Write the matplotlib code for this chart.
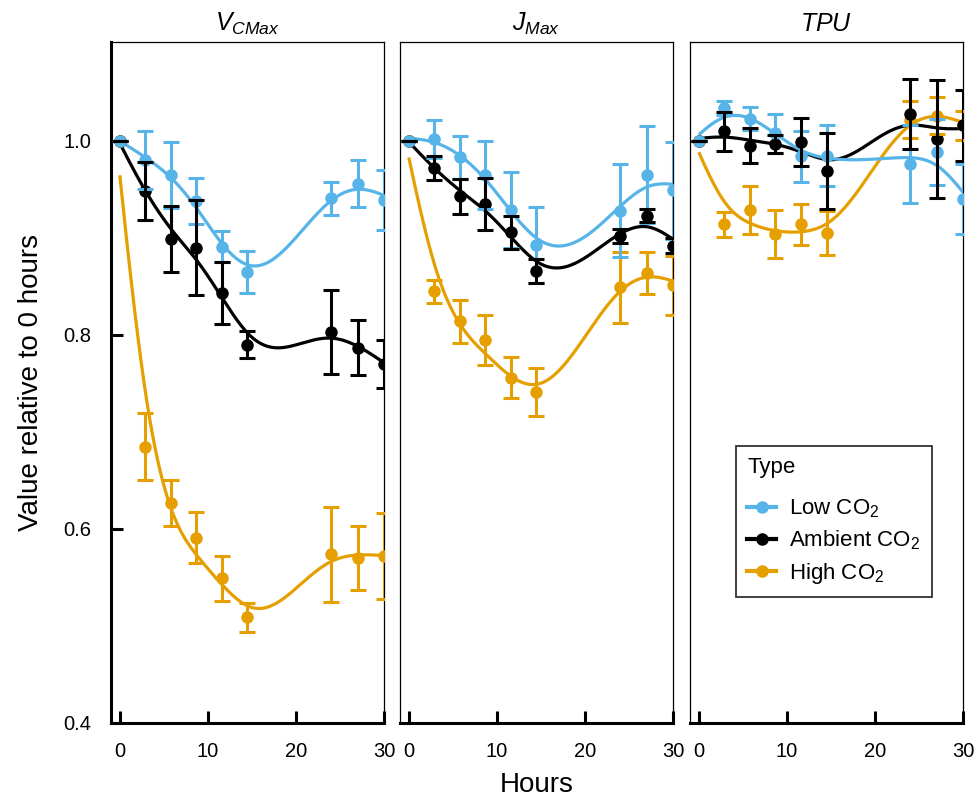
import numpy as np
import matplotlib
matplotlib.use("Agg")
import matplotlib.pyplot as plt
from matplotlib.lines import Line2D

plt.rcParams['font.family'] = ['Liberation Sans', 'DejaVu Sans']
plt.rcParams['mathtext.fontset'] = 'custom'
plt.rcParams['mathtext.rm'] = 'Liberation Sans'
plt.rcParams['mathtext.it'] = 'Liberation Sans:italic'

# ---------------- data ----------------
hours = [0, 2.9, 5.8, 8.7, 11.6, 14.5, 24, 27, 30]
panels = ["$V_{CMax}$", "$J_{Max}$", "$TPU$"]
types = ["Low CO$_2$", "Ambient CO$_2$", "High CO$_2$"]
colors = ["#56B4E9", "#000000", "#E69F00"]

# Vcmax
vc_low = [1.0, 0.980, 0.965, 0.938, 0.891, 0.865, 0.941, 0.956, 0.939]
vc_low_se = [0.0, 0.030, 0.034, 0.024, 0.016, 0.022, 0.017, 0.024, 0.031]
vc_amb = [1.0, 0.948, 0.899, 0.890, 0.843, 0.790, 0.803, 0.787, 0.770]
vc_amb_se = [0.0, 0.030, 0.034, 0.049, 0.032, 0.014, 0.043, 0.028, 0.025]
vc_high = [1.0, 0.685, 0.627, 0.591, 0.549, 0.509, 0.574, 0.570, 0.572]
vc_high_se = [0.0, 0.035, 0.024, 0.026, 0.023, 0.015, 0.049, 0.033, 0.044]

# Jmax
jm_low = [1.0, 1.002, 0.983, 0.965, 0.929, 0.893, 0.928, 0.965, 0.949]
jm_low_se = [0.0, 0.020, 0.022, 0.035, 0.039, 0.039, 0.048, 0.050, 0.050]
jm_amb = [1.0, 0.972, 0.943, 0.935, 0.906, 0.866, 0.902, 0.923, 0.892]
jm_amb_se = [0.0, 0.012, 0.018, 0.027, 0.017, 0.012, 0.007, 0.007, 0.008]
jm_high = [1.0, 0.845, 0.814, 0.795, 0.756, 0.741, 0.849, 0.864, 0.851]
jm_high_se = [0.0, 0.012, 0.022, 0.026, 0.021, 0.025, 0.037, 0.022, 0.030]

# TPU
tp_low = [1.0, 1.034, 1.023, 1.008, 0.984, 0.985, 0.976, 0.989, 0.940]
tp_low_se = [0.0, 0.007, 0.012, 0.020, 0.026, 0.031, 0.040, 0.034, 0.036]
tp_amb = [1.0, 1.010, 0.995, 0.997, 0.999, 0.969, 1.028, 1.002, 1.016]
tp_amb_se = [0.0, 0.020, 0.018, 0.009, 0.025, 0.039, 0.036, 0.061, 0.037]
tp_high = [1.0, 0.914, 0.929, 0.904, 0.914, 0.905, 1.022, 1.026, 1.016]
tp_high_se = [0.0, 0.013, 0.025, 0.025, 0.021, 0.023, 0.019, 0.019, 0.015]

series = [
    [(vc_low, vc_low_se), (vc_amb, vc_amb_se), (vc_high, vc_high_se)],
    [(jm_low, jm_low_se), (jm_amb, jm_amb_se), (jm_high, jm_high_se)],
    [(tp_low, tp_low_se), (tp_amb, tp_amb_se), (tp_high, tp_high_se)],
]


# ---------------- smoother (P-spline) ----------------
def bspline_basis(x, xl, xr, nseg, deg=3):
    x = np.asarray(x, float)
    dx = (xr - xl) / nseg
    knots = xl + dx * np.arange(-deg, nseg + deg + 1)
    B = np.zeros((len(x), len(knots) - 1))
    for i in range(len(knots) - 1):
        B[:, i] = (x >= knots[i]) & (x < knots[i + 1])
    for d in range(1, deg + 1):
        Bn = np.zeros((len(x), len(knots) - 1 - d))
        for i in range(len(knots) - 1 - d):
            Bn[:, i] = ((x - knots[i]) / (knots[i + d] - knots[i]) * B[:, i]
                        + (knots[i + d + 1] - x) / (knots[i + d + 1] - knots[i + 1]) * B[:, i + 1])
        B = Bn
    return B


def psmooth(x, y, xs, lam=0.18, nseg=10):
    B = bspline_basis(x, -0.001, 30.001, nseg)
    n = B.shape[1]
    D = np.diff(np.eye(n), 2, axis=0)
    a = np.linalg.solve(B.T @ B + lam * D.T @ D, B.T @ np.asarray(y, float))
    return bspline_basis(xs, -0.001, 30.001, nseg) @ a


# ---------------- figure ----------------
W, H = 978, 798
fig = plt.figure(figsize=(W / 100, H / 100), dpi=100)
lefts = [111, 400, 690]
pw = 273
top_px, bot_px = 42, 723
xs = np.linspace(0, 30, 300)

axes = []
for p in range(3):
    ax = fig.add_axes([lefts[p] / W, 1 - bot_px / H, pw / W, (bot_px - top_px) / H])
    axes.append(ax)
    ax.set_xlim(-1.0, 30)
    ax.set_ylim(0.4, 1.102)
    # smooth lines
    for (vals, se), c in zip(series[p][::-1], colors[::-1]):
        ax.plot(xs, psmooth(hours, vals, xs), color=c, lw=2.3, zorder=2, solid_capstyle='butt')
    # points
    for (vals, se), c in zip(series[p][::-1], colors[::-1]):
        ax.plot(hours, vals, 'o', color=c, ms=9, zorder=3, clip_on=True, mew=0)
    # errorbars
    for idx in [2, 0, 1]:
        vals, se = series[p][idx]
        ax.errorbar(hours, vals, yerr=se, fmt='none', ecolor=colors[idx], elinewidth=2.2,
                    capsize=6, capthick=2.2, zorder=4)
    ax.set_title(panels[p], fontsize=18, pad=8)
    ax.set_xticks([0, 10, 20, 30])
    ax.set_yticks([0.4, 0.6, 0.8, 1.0])
    ax.tick_params(direction='in', length=8.5, width=2.2, labelsize=14.5, pad=14)
    for s in ['top', 'right', 'left']:
        ax.spines[s].set_linewidth(0.9)
    ax.spines['bottom'].set_linewidth(2.2)
    if p == 0:
        ax.spines['left'].set_linewidth(2.2)
        ax.set_yticklabels(['0.4', '0.6', '0.8', '1.0'])
        ax.set_ylabel('Value relative to 0 hours', fontsize=20, labelpad=14)
    else:
        ax.tick_params(axis='y', left=False, labelleft=False)

fig.text((lefts[0] + lefts[2] + pw) / 2 / W, 1 - 785 / H, 'Hours', ha='center', va='center', fontsize=20)

handles = [Line2D([0], [0], color=c, lw=3, marker='o', ms=9, mew=0) for c in colors]
leg = axes[2].legend(handles, types, title='Type', loc='lower left',
                     bbox_to_anchor=((736 - lefts[2]) / pw, (bot_px - 597) / (bot_px - top_px)),
                     fontsize=16, title_fontsize=16, frameon=True, fancybox=False,
                     edgecolor='black', handlelength=1.3, handletextpad=0.6,
                     borderpad=0.5, labelspacing=0.38, alignment='left', borderaxespad=0)
leg._legend_box.sep = 14
leg.get_frame().set_linewidth(1.3)

fig.savefig('out.png', dpi=100)
